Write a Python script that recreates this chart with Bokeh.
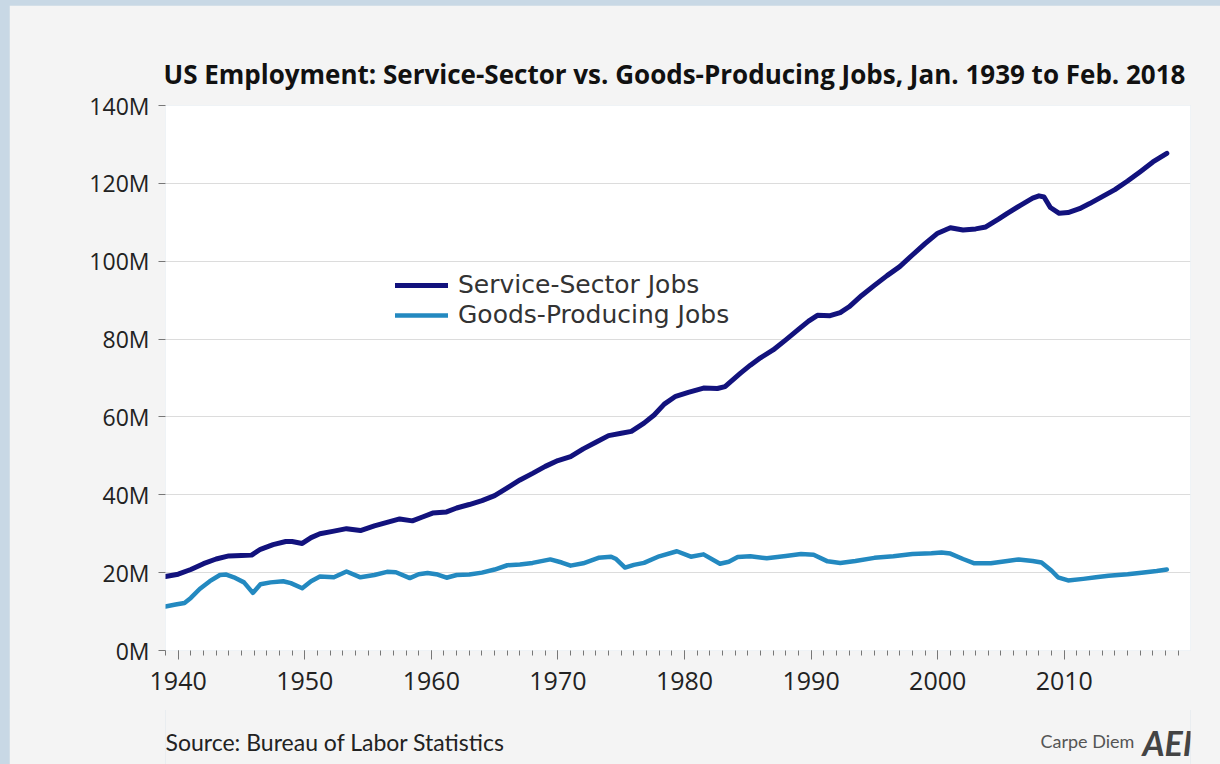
from bokeh.plotting import figure
from bokeh.models import (Legend, LegendItem, SingleIntervalTicker, Title, Label,
                          FixedTicker, PrintfTickFormatter, Range1d)
from bokeh.layouts import column
from bokeh.embed import file_html
from bokeh.resources import INLINE

# ---------------- data (millions of jobs) ----------------
service_years = [1939.0, 1940.0, 1941.0, 1942.0, 1943.0, 1944.0, 1945.0, 1945.8, 1946.5, 1947.5,
                 1948.5, 1949.0, 1949.8, 1950.5, 1951.2, 1952.2, 1953.3, 1954.4, 1955.5, 1956.5,
                 1957.5, 1958.5, 1959.3, 1960.1, 1961.2, 1962.0, 1963.0, 1964.0, 1965.0, 1966.0,
                 1967.0, 1968.0, 1969.0, 1970.0, 1971.0, 1972.0, 1973.0, 1974.0, 1975.0, 1975.8,
                 1976.8, 1977.6, 1978.4, 1979.3, 1980.3, 1981.5, 1982.6, 1983.2, 1984.4, 1985.2,
                 1986.0, 1987.0, 1988.0, 1989.0, 1989.8, 1990.5, 1991.5, 1992.3, 1993.0, 1994.0,
                 1995.0, 1996.0, 1997.0, 1998.0, 1999.0, 2000.0, 2001.0, 2002.0, 2003.0, 2003.8,
                 2004.8, 2005.5, 2006.5, 2007.5, 2008.0, 2008.4, 2008.9, 2009.6, 2010.3, 2011.2,
                 2012.0, 2013.0, 2014.0, 2015.0, 2016.0, 2017.0, 2018.1]
service_jobs = [19.0, 19.6, 20.8, 22.3, 23.5, 24.3, 24.4, 24.5, 26.0, 27.2,
                28.0, 28.0, 27.5, 29.0, 30.0, 30.6, 31.3, 30.8, 32.0, 32.9,
                33.8, 33.3, 34.3, 35.3, 35.6, 36.6, 37.5, 38.5, 39.8, 41.8,
                43.8, 45.5, 47.3, 48.8, 49.8, 51.8, 53.5, 55.2, 55.8, 56.3,
                58.4, 60.5, 63.3, 65.3, 66.3, 67.4, 67.3, 67.8, 71.2, 73.3,
                75.2, 77.2, 79.8, 82.5, 84.6, 86.1, 86.0, 86.8, 88.3, 91.2,
                93.8, 96.3, 98.6, 101.6, 104.5, 107.2, 108.6, 108.0, 108.3, 108.8,
                110.8, 112.3, 114.3, 116.2, 116.8, 116.5, 113.8, 112.3, 112.5, 113.5,
                114.8, 116.6, 118.4, 120.6, 123.0, 125.5, 127.7]

goods_years = [1939.0, 1939.8, 1940.5, 1941.0, 1941.7, 1942.5, 1943.3, 1943.8, 1944.4, 1945.2,
               1945.9, 1946.5, 1947.3, 1948.3, 1948.9, 1949.8, 1950.5, 1951.2, 1952.3, 1953.3,
               1954.4, 1955.5, 1956.5, 1957.2, 1958.3, 1959.0, 1959.7, 1960.5, 1961.2, 1962.0,
               1963.0, 1964.0, 1965.0, 1966.0, 1967.0, 1968.0, 1969.4, 1970.3, 1971.0, 1972.0,
               1973.2, 1974.2, 1974.6, 1975.3, 1976.0, 1976.8, 1978.0, 1979.4, 1980.5, 1981.5,
               1982.8, 1983.5, 1984.2, 1985.2, 1986.5, 1988.0, 1989.2, 1990.2, 1991.3, 1992.3,
               1993.5, 1995.0, 1996.5, 1998.0, 1999.5, 2000.3, 2001.0, 2002.0, 2002.9, 2004.2,
               2005.5, 2006.4, 2007.5, 2008.2, 2009.0, 2009.5, 2010.3, 2011.5, 2012.5, 2013.5,
               2015.0, 2016.1, 2017.3, 2018.1]
goods_jobs = [11.3, 11.8, 12.2, 13.5, 15.8, 17.8, 19.4, 19.5, 18.8, 17.5,
              14.8, 17.0, 17.5, 17.8, 17.3, 16.0, 17.8, 19.0, 18.8, 20.3,
              18.8, 19.4, 20.2, 20.1, 18.6, 19.6, 19.9, 19.5, 18.7, 19.4,
              19.5, 20.0, 20.8, 21.9, 22.1, 22.5, 23.4, 22.6, 21.8, 22.4,
              23.8, 24.1, 23.5, 21.3, 22.0, 22.5, 24.2, 25.5, 24.1, 24.7,
              22.3, 22.8, 24.0, 24.2, 23.7, 24.3, 24.8, 24.6, 22.9, 22.5,
              23.0, 23.8, 24.2, 24.8, 25.0, 25.2, 24.9, 23.5, 22.4, 22.4,
              23.0, 23.4, 23.0, 22.6, 20.5, 18.8, 18.0, 18.4, 18.8, 19.2,
              19.6, 20.0, 20.4, 20.8]

y_ticks = [0, 20, 40, 60, 80, 100, 120, 140]
series_names = ["Service-Sector Jobs", "Goods-Producing Jobs"]
title_text = "US Employment: Service-Sector vs. Goods-Producing Jobs, Jan. 1939 to Feb. 2018"
source_text = "Source: Bureau of Labor Statistics"
credit_text = "Carpe Diem"
logo_text = "AEI"

# ---------------- styling ----------------
SERVICE_COLOR = "#12127d"
GOODS_COLOR = "#2389c0"
PANEL_BG = "#f4f4f4"
OUTER_BG = "#c8d8e5"
TICK_FONT = "Open Sans"
TEXT_FONT = "Lato"
W = 1211

p = figure(width=W, height=705, output_backend="svg", toolbar_location=None,
           x_range=Range1d(1939, 2019.97), y_range=Range1d(0, 140),
           min_border_left=156, min_border_right=30, min_border_top=100, min_border_bottom=60,
           background_fill_color="white", border_fill_color=PANEL_BG, outline_line_color=None)
p.margin = (5, 0, 0, 9)

r1 = p.line(service_years, service_jobs, line_color=SERVICE_COLOR, line_width=5,
            line_join="round", line_cap="round")
r2 = p.line(goods_years, goods_jobs, line_color=GOODS_COLOR, line_width=4.5,
            line_join="round", line_cap="round")

# title
p.add_layout(Title(text=title_text, align="left", offset=-2, standoff=27,
                   text_font="Open Sans", text_font_style="bold", text_font_size="26px",
                   text_color="#111111"), "above")

# axes
p.xaxis.ticker = SingleIntervalTicker(interval=10, num_minor_ticks=10)
p.xaxis.axis_line_color = None
p.xaxis.major_tick_line_color = "#777777"
p.xaxis.minor_tick_line_color = "#777777"
p.xaxis.major_tick_in = 0
p.xaxis.major_tick_out = 9
p.xaxis.minor_tick_in = 0
p.xaxis.minor_tick_out = 5
p.xaxis.major_label_text_font = TICK_FONT
p.xaxis.major_label_text_font_size = "25px"
p.xaxis.major_label_text_color = "#222222"
p.xaxis.major_label_standoff = 12

p.yaxis.ticker = FixedTicker(ticks=y_ticks)
p.yaxis.formatter = PrintfTickFormatter(format="%dM")
p.yaxis.axis_line_color = None
p.yaxis.major_tick_line_color = "#777777"
p.yaxis.major_tick_in = 0
p.yaxis.major_tick_out = 7
p.yaxis.minor_tick_line_color = None
p.yaxis.major_label_text_font = TICK_FONT
p.yaxis.major_label_text_font_size = "23px"
p.yaxis.major_label_text_color = "#222222"
p.yaxis.major_label_standoff = 9

p.xgrid.grid_line_color = None
p.ygrid.ticker = FixedTicker(ticks=y_ticks[1:])
p.ygrid.grid_line_color = "#dcdcdc"

# legend: one legend box per row so the rows can sit close together
legend_style = dict(orientation="vertical", label_text_font="DejaVu Sans",
                    label_text_font_size="25px", label_text_color="#333333",
                    glyph_width=53, glyph_height=22, label_height=22, spacing=0,
                    padding=0, margin=0, label_standoff=10, border_line_color=None,
                    background_fill_alpha=0)
p.add_layout(Legend(items=[LegendItem(label=series_names[0], renderers=[r1])],
                    location=(230, 351), **legend_style), "center")
p.add_layout(Legend(items=[LegendItem(label=series_names[1], renderers=[r2])],
                    location=(230, 321), **legend_style), "center")

# footer strip (source and credit texts); its frame is aligned with the main frame
f = figure(width=W, height=55, output_backend="svg", toolbar_location=None,
           x_range=Range1d(0, 1), y_range=Range1d(0, 1),
           min_border=0, min_border_left=0, min_border_right=0,
           min_border_top=0, min_border_bottom=0,
           background_fill_color=PANEL_BG, border_fill_color=PANEL_BG,
           outline_line_color=None)
f.margin = (-1, 0, 0, 9)
f.axis.visible = False
f.grid.visible = False
f.add_layout(Label(x=0, y=23, x_units="screen", y_units="screen", text=source_text,
                   text_font=TEXT_FONT, text_font_size="23px", text_color="#222222",
                   text_baseline="alphabetic"))
f.add_layout(Label(x=875, y=24, x_units="screen", y_units="screen", text=credit_text,
                   text_font=TEXT_FONT, text_font_size="18px", text_color="#555555",
                   text_baseline="alphabetic"))
f.add_layout(Label(x=977, y=22, x_units="screen", y_units="screen", text=logo_text,
                   text_font=TEXT_FONT, text_font_style="bold italic", text_font_size="34px",
                   text_color="#444444", text_baseline="alphabetic"))

layout = column(p, f, styles={"background-color": OUTER_BG}, margin=0, spacing=0)

open("out.html", "w").write(file_html(layout, INLINE))
